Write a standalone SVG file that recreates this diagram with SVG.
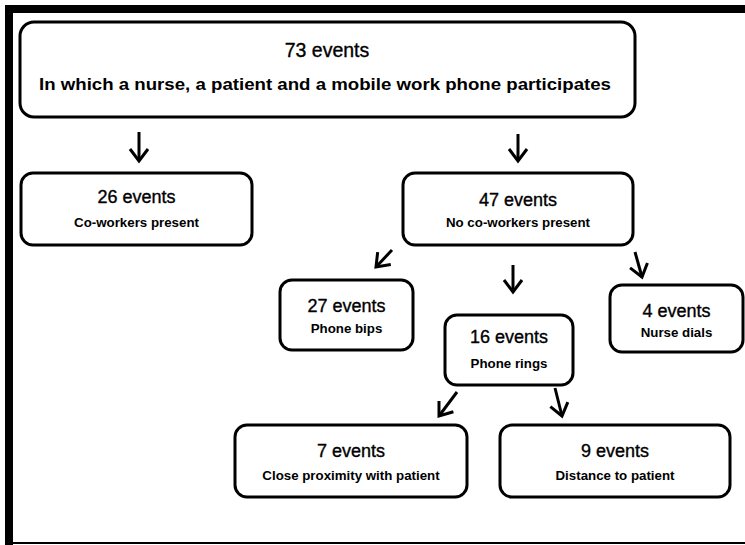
<svg xmlns="http://www.w3.org/2000/svg" width="745" height="545" viewBox="0 0 745 545">
<defs>
<style>
.box{fill:#fff;stroke:#000;stroke-width:3}
.t{font-family:"Liberation Sans",Arial,Helvetica,sans-serif;font-size:18px;text-anchor:middle;fill:#000;stroke:#000;stroke-width:0.35}
.s{font-family:"Liberation Sans",Arial,Helvetica,sans-serif;font-size:13.3px;font-weight:bold;text-anchor:middle;fill:#000}
.arr{fill:none;stroke:#000;stroke-width:3;marker-end:url(#ah)}
</style>
<marker id="ah" markerUnits="userSpaceOnUse" markerWidth="20" markerHeight="24" refX="0" refY="0" orient="auto" overflow="visible">
<path d="M-12,-9 L0,0 L-12,9" fill="none" stroke="#000" stroke-width="3" stroke-linejoin="miter"/>
</marker>
</defs>
<rect x="0" y="0" width="745" height="545" fill="#fff"/>
<g id="frame">
<rect x="5" y="5" width="740" height="8" fill="#000"/>
<rect x="5" y="5" width="8" height="540" fill="#000"/>
<rect x="5" y="542" width="740" height="2" fill="#000"/>
</g>
<g id="connectors">
<path class="arr" d="M139,132 L139,161"/>
<path class="arr" d="M518,134 L518,161"/>
<path class="arr" d="M392,250 L376,267"/>
<path class="arr" d="M513,265 L513,292"/>
<path class="arr" d="M635,252 L642,277"/>
<path class="arr" d="M457,392 L439,416"/>
<path class="arr" d="M555,388 L562,416"/>
</g>
<g id="n73">
<rect class="box" x="20" y="22" width="615" height="95" rx="14"/>
<text class="t" x="327" y="57" style="font-size:19.5px">73 events</text>
<text class="s" x="325" y="90" style="font-size:17px" textLength="572" lengthAdjust="spacingAndGlyphs">In which a nurse, a patient and a mobile work phone participates</text>
</g>
<g id="n26">
<rect class="box" x="21" y="173" width="231" height="72" rx="12"/>
<text class="t" x="136.5" y="203">26 events</text>
<text class="s" x="136.5" y="227">Co-workers present</text>
</g>
<g id="n47">
<rect class="box" x="403" y="173" width="230" height="72" rx="12"/>
<text class="t" x="518" y="206">47 events</text>
<text class="s" x="518" y="227">No co-workers present</text>
</g>
<g id="n27">
<rect class="box" x="280" y="280" width="133" height="70" rx="12"/>
<text class="t" x="346.5" y="312">27 events</text>
<text class="s" x="346.5" y="333">Phone bips</text>
</g>
<g id="n4">
<rect class="box" x="610" y="285" width="133" height="67" rx="12"/>
<text class="t" x="676.5" y="317">4 events</text>
<text class="s" x="676.5" y="337">Nurse dials</text>
</g>
<g id="n16">
<rect class="box" x="445" y="315" width="128" height="70" rx="12"/>
<text class="t" x="509" y="343">16 events</text>
<text class="s" x="509" y="368">Phone rings</text>
</g>
<g id="n7">
<rect class="box" x="235" y="425" width="232" height="72" rx="12"/>
<text class="t" x="351" y="457">7 events</text>
<text class="s" x="351" y="480">Close proximity with patient</text>
</g>
<g id="n9">
<rect class="box" x="500" y="425" width="230" height="72" rx="12"/>
<text class="t" x="615" y="457">9 events</text>
<text class="s" x="615" y="480">Distance to patient</text>
</g>
</svg>
